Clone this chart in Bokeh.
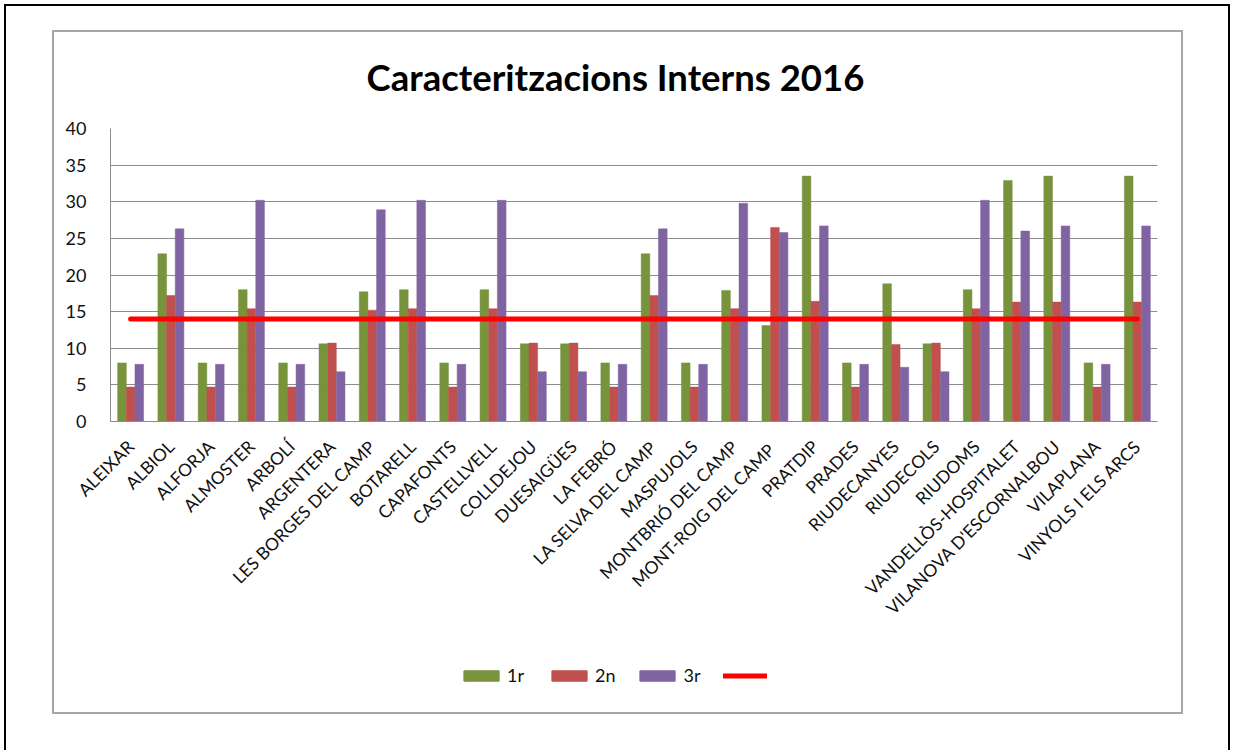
from bokeh.plotting import figure
from bokeh.layouts import column
from bokeh.models import (ColumnDataSource, FactorRange, Legend, LegendItem, Label,
                          SingleIntervalTicker, Range1d)
from bokeh.transform import dodge
from bokeh.embed import file_html
from bokeh.resources import INLINE
import math

municipis = ["ALEIXAR", "ALBIOL", "ALFORJA", "ALMOSTER", "ARBOLÍ", "ARGENTERA",
             "LES BORGES DEL CAMP", "BOTARELL", "CAPAFONTS", "CASTELLVELL", "COLLDEJOU",
             "DUESAIGÜES", "LA FEBRÓ", "LA SELVA DEL CAMP", "MASPUJOLS", "MONTBRIÓ DEL CAMP",
             "MONT-ROIG DEL  CAMP", "PRATDIP", "PRADES", "RIUDECANYES", "RIUDECOLS", "RIUDOMS",
             "VANDELLÒS-HOSPITALET", "VILANOVA D'ESCORNALBOU", "VILAPLANA", "VINYOLS I ELS ARCS"]

primer = [8.0, 22.9, 8.0, 18.0, 8.0, 10.6, 17.7, 18.0, 8.0, 18.0, 10.6, 10.6, 8.0, 22.9,
          8.0, 17.9, 13.1, 33.5, 8.0, 18.8, 10.6, 18.0, 32.9, 33.5, 8.0, 33.5]
segon = [4.7, 17.2, 4.7, 15.4, 4.7, 10.7, 15.2, 15.4, 4.7, 15.4, 10.7, 10.7, 4.7, 17.2,
         4.7, 15.4, 26.5, 16.4, 4.7, 10.5, 10.7, 15.4, 16.3, 16.3, 4.7, 16.3]
tercer = [7.8, 26.3, 7.8, 30.2, 7.8, 6.8, 28.9, 30.2, 7.8, 30.2, 6.8, 6.8, 7.8, 26.3,
          7.8, 29.8, 25.8, 26.7, 7.8, 7.4, 6.8, 30.2, 26.0, 26.7, 7.8, 26.7]
llindar = 14.0
linia = [llindar] * len(municipis)

titol = "Caracteritzacions Interns 2016"
series = ["1r", "2n", "3r"]
colors = ["#77933C", "#C0504D", "#8064A2"]
line_color = "#FF0000"

src = ColumnDataSource(dict(m=municipis, s1=primer, s2=segon, s3=tercer, l=linia))

FONT = "Lato"
W = 1127
bw = 0.215


def bare(height, **kw):
    f = figure(width=W, height=height, output_backend="svg", toolbar_location=None,
               x_axis_location=None, y_axis_location=None,
               min_border_left=0, min_border_right=0, min_border_top=0, min_border_bottom=0,
               **kw)
    f.outline_line_color = None
    f.xgrid.visible = False
    f.ygrid.visible = False
    f.background_fill_color = "white"
    f.border_fill_color = "white"
    return f


# ---- title strip
tfig = bare(86)
tfig.add_layout(Label(x=505, y=42, x_units="screen", y_units="screen", text=titol,
                      text_font=FONT, text_font_style="bold", text_font_size="36.5px",
                      text_align="center", text_baseline="middle", text_color="#000000"))

# ---- main chart
p = figure(width=W, height=537, x_range=FactorRange(*municipis, range_padding=0),
           y_range=(0, 40), output_backend="svg", toolbar_location=None,
           min_border_left=56, min_border_right=24, min_border_top=10, min_border_bottom=234)
p.outline_line_color = None
p.background_fill_color = "white"
p.border_fill_color = "white"

for col, off, c in zip(["s1", "s2", "s3"], [-bw, 0, bw], colors):
    p.vbar(x=dodge("m", off, range=p.x_range), top=col, width=bw, source=src,
           fill_color=c, line_color=c, line_width=0.5)
p.line(x="m", y="l", source=src, line_color=line_color, line_width=5, line_cap="round")

p.yaxis.ticker = SingleIntervalTicker(interval=5)
p.yaxis.axis_line_color = "#8c8c8c"
p.yaxis.major_tick_line_color = None
p.yaxis.minor_tick_line_color = None
p.yaxis.major_label_standoff = 18
p.yaxis.major_label_text_font = FONT
p.yaxis.major_label_text_font_size = "18px"
p.yaxis.major_label_text_color = "#111111"

p.xaxis.axis_line_color = "#8c8c8c"
p.xaxis.major_tick_line_color = None
p.xaxis.major_tick_in = 0
p.xaxis.major_tick_out = 0
p.xaxis.major_label_orientation = math.pi / 4
p.xaxis.major_label_standoff = 22
p.xaxis.major_label_text_font = FONT
p.xaxis.major_label_text_font_size = "17.5px"
p.xaxis.major_label_text_color = "#111111"

p.xgrid.grid_line_color = None
p.ygrid.grid_line_color = "#8c8c8c"
p.ygrid.grid_line_width = 1

# ---- legend strip (same series drawn out of view, only their legend swatches show)
lfig = bare(57, x_range=FactorRange(*municipis), y_range=Range1d(1000, 1001))
items = []
for s, col, c in zip(series, ["s1", "s2", "s3"], colors):
    r = lfig.vbar(x="m", top=col, width=bw, source=src, fill_color=c, line_color=c)
    items.append(LegendItem(label=s, renderers=[r]))
rl = lfig.line(x="m", y="l", source=src, line_color=line_color, line_width=5, line_cap="round")
items.append(LegendItem(label=" ", renderers=[rl]))
legend = Legend(items=items, orientation="horizontal", location=(349, 26),
                glyph_width=44, glyph_height=13, label_text_font=FONT,
                label_text_font_size="18px", label_text_color="#111111", spacing=20,
                padding=0, margin=0, label_standoff=4, border_line_alpha=0,
                background_fill_alpha=0)
lfig.add_layout(legend)

box = column(tfig, p, lfig, spacing=0, styles={"border": "2px solid #a6a6a6"})
page = column(box, styles={"border-left": "2px solid black", "border-right": "2px solid black",
                           "border-top": "2px solid black",
                           "padding": "24px 45px 36px 46px", "margin": "4px"})

open("out.html", "w").write(file_html(page, INLINE))
